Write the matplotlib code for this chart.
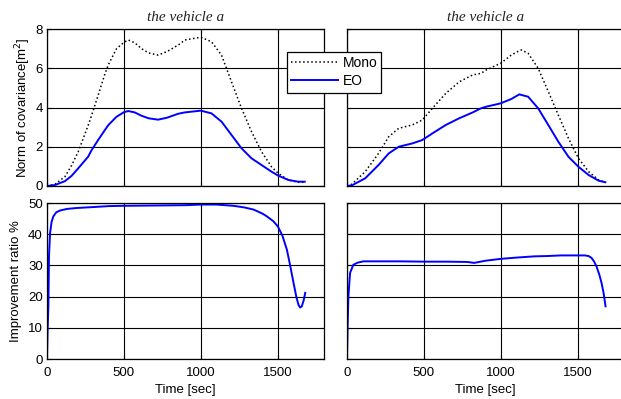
import matplotlib
matplotlib.use("Agg")
import matplotlib.pyplot as plt

# top-left panel: norm of covariance
t_cov_a = [0, 52, 117, 160, 203, 268, 290, 333, 376, 398, 452, 500, 528, 570, 614, 660, 722, 780,
           852, 896, 1000, 1069, 1134, 1199, 1264, 1329, 1394, 1459, 1502, 1567, 1632, 1675]
mono_a = [0, 0.09, 0.48, 1.05, 1.75, 3.1, 3.6, 4.64, 5.7, 6.17, 7.0, 7.32, 7.44, 7.3, 7.0, 6.78,
          6.67, 6.85, 7.18, 7.44, 7.58, 7.35, 6.67, 5.31, 3.96, 2.77, 1.75, 0.98, 0.65, 0.31,
          0.19, 0.19]
eo_a = [0, 0.05, 0.25, 0.52, 0.9, 1.5, 1.83, 2.35, 2.85, 3.1, 3.53, 3.76, 3.82, 3.75, 3.58, 3.45,
        3.38, 3.48, 3.68, 3.75, 3.84, 3.7, 3.28, 2.6, 1.92, 1.41, 1.07, 0.73, 0.53, 0.31, 0.22,
        0.22]

# top-right panel
t_cov_b = [0, 31, 118, 205, 271, 336, 424, 489, 555, 642, 729, 817, 871, 904, 998, 1067, 1120,
           1133, 1177, 1242, 1308, 1373, 1439, 1504, 1570, 1635, 1679]
mono_b = [0, 0.09, 0.73, 1.66, 2.51, 2.94, 3.11, 3.36, 3.96, 4.72, 5.31, 5.66, 5.74, 5.91, 6.25,
          6.67, 6.9, 6.93, 6.76, 6.0, 4.81, 3.62, 2.43, 1.41, 0.73, 0.31, 0.19]
eo_b = [0, 0.03, 0.39, 1.07, 1.66, 2.0, 2.17, 2.34, 2.68, 3.11, 3.45, 3.75, 3.96, 4.04, 4.21,
        4.43, 4.67, 4.64, 4.55, 3.96, 3.11, 2.26, 1.49, 0.98, 0.56, 0.27, 0.19]

# bottom panels: improvement ratio
t_imp_a = [0, 4, 9, 13, 20, 30, 41, 60, 85, 130, 193, 300, 400, 500, 700, 900, 1000, 1100,
           1212, 1280, 1342, 1400, 1429, 1470, 1500, 1530, 1559, 1580, 1602, 1620, 1634, 1645,
           1656, 1668, 1678]
imp_a = [0, 9.4, 16.9, 32.9, 40.4, 44, 45.7, 47, 47.6, 48.1, 48.4, 48.7, 49.0, 49.1, 49.2, 49.3,
         49.5, 49.5, 49.1, 48.6, 47.9, 46.6, 45.7, 44.2, 42.5, 39.5, 35, 30, 24.4, 20, 17.4, 16.5,
         16.9, 18.8, 21.2]
t_imp_b = [0, 4, 9, 20, 41, 70, 107, 200, 347, 500, 650, 783, 826, 900, 1000, 1100, 1218, 1300,
           1392, 1470, 1545, 1570, 1589, 1605, 1621, 1640, 1654, 1668, 1680]
imp_b = [0, 10.5, 20, 27.6, 30.2, 30.9, 31.3, 31.3, 31.3, 31.2, 31.2, 31.1, 30.8, 31.5, 32.1,
         32.5, 32.9, 33.0, 33.2, 33.2, 33.2, 33.0, 32.4, 31.3, 29.7, 27.0, 24.4, 21.0, 16.9]

x_ticks = [0, 500, 1000, 1500]
cov_ticks = [0, 2, 4, 6, 8]
imp_ticks = [0, 10, 20, 30, 40, 50]
title_text = "the vehicle a"

plt.rcParams["font.family"] = ["Liberation Sans", "DejaVu Sans"]
plt.rcParams["font.size"] = 9.5

W, H = 621, 399
fig = plt.figure(figsize=(W / 100, H / 100), dpi=100)


def make_ax(x0, y_top, y_bot, x1):
    # positions given in reference pixels
    return fig.add_axes([x0 / W, 1 - y_bot / H, (x1 - x0) / W, (y_bot - y_top) / H])


ax_tl = make_ax(47, 29, 186, 324)
ax_tr = make_ax(347, 29, 186, 624)
ax_bl = make_ax(47, 203, 359, 324)
ax_br = make_ax(347, 203, 359, 624)

for ax in (ax_tl, ax_tr, ax_bl, ax_br):
    ax.set_xlim(0, 1800)
    ax.set_xticks(x_ticks)
    ax.grid(True, color="black", linestyle="-", linewidth=0.8)
    ax.tick_params(direction="in", length=3, width=0.8, labelsize=9.5,
                   top=True, right=True, pad=3)
    ax.tick_params(axis="x", pad=6)
    for s in ax.spines.values():
        s.set_linewidth(0.9)

for ax in (ax_tl, ax_tr):
    ax.set_ylim(0, 8)
    ax.set_yticks(cov_ticks)
    ax.tick_params(labelbottom=False)
    ax.set_title(title_text, family=["Liberation Serif"], style="italic",
                 fontsize=11, pad=6, color="#222222")

for ax in (ax_bl, ax_br):
    ax.set_ylim(0, 50)
    ax.set_yticks(imp_ticks)
    ax.set_xticklabels([str(v) for v in x_ticks])
    ax.set_xlabel("Time [sec]", fontsize=9.5, labelpad=3)

ax_tr.tick_params(labelleft=False)
ax_br.tick_params(labelleft=False)

ax_tl.plot(t_cov_a, mono_a, color="black", linestyle=":", linewidth=1.1, label="Mono")
ax_tl.plot(t_cov_a, eo_a, color="blue", linewidth=1.4, label="EO")
ax_tr.plot(t_cov_b, mono_b, color="black", linestyle=":", linewidth=1.1)
ax_tr.plot(t_cov_b, eo_b, color="blue", linewidth=1.4)
ax_bl.plot(t_imp_a, imp_a, color="blue", linewidth=1.4)
ax_br.plot(t_imp_b, imp_b, color="blue", linewidth=1.4)

ax_tl.set_ylabel("Norm of covariance[m$^2$]", fontsize=9.5, labelpad=2)
ax_bl.set_ylabel("Improvement ratio %", fontsize=9.5, labelpad=4)

handles, labels = ax_tl.get_legend_handles_labels()
leg = fig.legend(handles, labels, loc="upper left", bbox_to_anchor=(287 / W, 1 - 52 / H),
                 fontsize=10, frameon=True, fancybox=False, framealpha=1,
                 edgecolor="black", handlelength=3.4, handletextpad=0.3,
                 borderpad=0.3, labelspacing=0.3, borderaxespad=0)
leg.get_frame().set_linewidth(0.9)

fig.savefig("out.png", dpi=100)
